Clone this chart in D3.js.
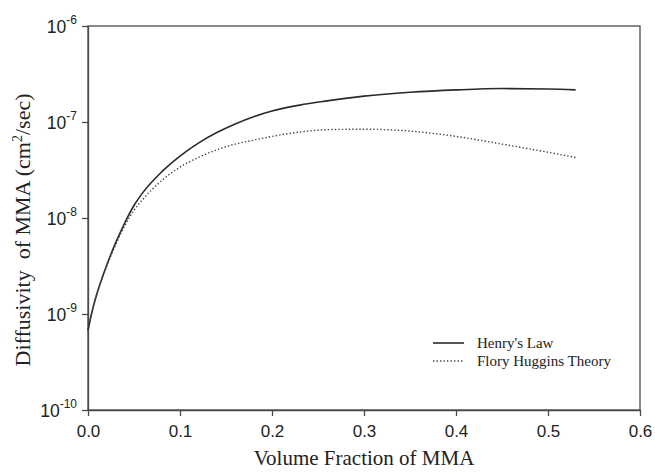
<!DOCTYPE html>
<html><head><meta charset="utf-8">
<script src="https://cdn.jsdelivr.net/npm/d3@7"></script>
<style>body{margin:0;background:#fff}svg{display:block}</style>
</head><body>
<svg id="chart" width="655" height="472"></svg>
<script>
const volumeFraction = [0, 0.005, 0.01, 0.02, 0.03, 0.04, 0.05, 0.06, 0.08, 0.10, 0.12, 0.14, 0.16, 0.18, 0.20, 0.23, 0.26, 0.30, 0.35, 0.40, 0.45, 0.50, 0.53];
const henrysLaw = [6.76e-10, 1.12e-9, 1.66e-9, 3.16e-9, 5.50e-9, 8.91e-9, 1.35e-8, 1.86e-8, 3.02e-8, 4.42e-8, 6.03e-8, 7.76e-8, 9.55e-8, 1.135e-7, 1.30e-7, 1.50e-7, 1.66e-7, 1.86e-7, 2.04e-7, 2.16e-7, 2.23e-7, 2.21e-7, 2.16e-7];
const floryHuggins = [6.76e-10, 1.12e-9, 1.66e-9, 3.09e-9, 5.25e-9, 8.32e-9, 1.20e-8, 1.58e-8, 2.45e-8, 3.39e-8, 4.27e-8, 5.13e-8, 5.89e-8, 6.46e-8, 7.08e-8, 7.85e-8, 8.32e-8, 8.41e-8, 8.04e-8, 7.08e-8, 5.89e-8, 4.84e-8, 4.27e-8];
const xTicks = [0, 0.1, 0.2, 0.3, 0.4, 0.5, 0.6];
const yExponents = [-10, -9, -8, -7, -6];
const seriesNames = ["Henry's Law", "Flory Huggins Theory"];

const svg = d3.select("#chart");
const L = 88, R = 640, T = 26, B = 410;
const x = d3.scaleLinear().domain([0, 0.6]).range([L, R]);
const y = d3.scaleLog().domain([1e-10, 1e-6]).range([B, T]);
const axisColor = "#4a4a4a";
const textColor = "#222";
const sans = "Liberation Sans, Arial, sans-serif";
const serif = "Liberation Serif, Times New Roman, serif";

// frame
svg.append("rect").attr("x", L).attr("y", T).attr("width", R - L).attr("height", B - T)
  .attr("fill", "none").attr("stroke", axisColor).attr("stroke-width", 1.3);

// x axis
const xAxis = svg.append("g").attr("transform", `translate(0,${B})`)
  .call(d3.axisBottom(x).tickValues(xTicks).tickFormat(d3.format(".1f")).tickSize(6).tickSizeOuter(0));
xAxis.select(".domain").attr("stroke", axisColor).attr("stroke-width", 1.3);
xAxis.selectAll(".tick line").attr("stroke", axisColor).attr("stroke-width", 1.3);
xAxis.selectAll(".tick text").attr("font-family", sans)
  .attr("font-size", 17).attr("fill", textColor).attr("y", 27).attr("dy", null);

// y axis
const yAxis = svg.append("g").attr("transform", `translate(${L},0)`)
  .call(d3.axisLeft(y).tickValues(yExponents.map(e => Math.pow(10, e))).tickFormat("").tickSize(6).tickSizeOuter(0));
yAxis.select(".domain").attr("stroke", axisColor).attr("stroke-width", 1.3);
yAxis.selectAll(".tick line").attr("stroke", axisColor).attr("stroke-width", 1.3);
yAxis.selectAll(".tick text").remove();
yAxis.selectAll(".tick").each(function(d) {
  const t = d3.select(this).append("text")
    .attr("x", -11).attr("y", 6.5).attr("text-anchor", "end")
    .attr("font-family", sans).attr("font-size", 17.5).attr("fill", textColor);
  t.append("tspan").text("10");
  t.append("tspan").attr("dy", -9.5).attr("font-size", 12).text(String(Math.round(Math.log10(d))));
});

// lines
const line = d3.line().x((d, i) => x(volumeFraction[i])).y(d => y(d)).curve(d3.curveMonotoneX);
svg.append("path").datum(henrysLaw).attr("d", line).attr("fill", "none")
  .attr("stroke", "#2a2a2a").attr("stroke-width", 1.6);
svg.append("path").datum(floryHuggins).attr("d", line).attr("fill", "none")
  .attr("stroke", "#444").attr("stroke-width", 1.4).attr("stroke-dasharray", "1.4,2.1");

// axis titles
svg.append("text").attr("x", (L + R) / 2).attr("y", 465).attr("text-anchor", "middle")
  .attr("font-family", serif).attr("font-size", 21).attr("fill", textColor)
  .text("Volume Fraction of MMA");
const yt = svg.append("text").attr("transform", `translate(30,${(T + B) / 2 + 12}) rotate(-90)`).attr("text-anchor", "middle")
  .attr("font-family", serif).attr("font-size", 22).attr("fill", textColor);
yt.append("tspan").text("Diffusivity\u00A0 of MMA (cm");
yt.append("tspan").attr("dy", -8).attr("font-size", 14).text("2");
yt.append("tspan").attr("dy", 8).text("/sec)");

// legend
const lg = svg.append("g").attr("font-family", serif).attr("font-size", 15).attr("fill", textColor);
const rowY = [343, 361];
rowY.forEach((ry, i) => {
  lg.append("line").attr("x1", 433).attr("x2", 464).attr("y1", ry).attr("y2", ry)
    .attr("stroke", i === 0 ? "#2a2a2a" : "#444").attr("stroke-width", i === 0 ? 1.6 : 1.4)
    .attr("stroke-dasharray", i === 0 ? null : "1.4,2.1");
  lg.append("text").attr("x", 477).attr("y", ry + 5).text(seriesNames[i]);
});
</script>
</body></html>
